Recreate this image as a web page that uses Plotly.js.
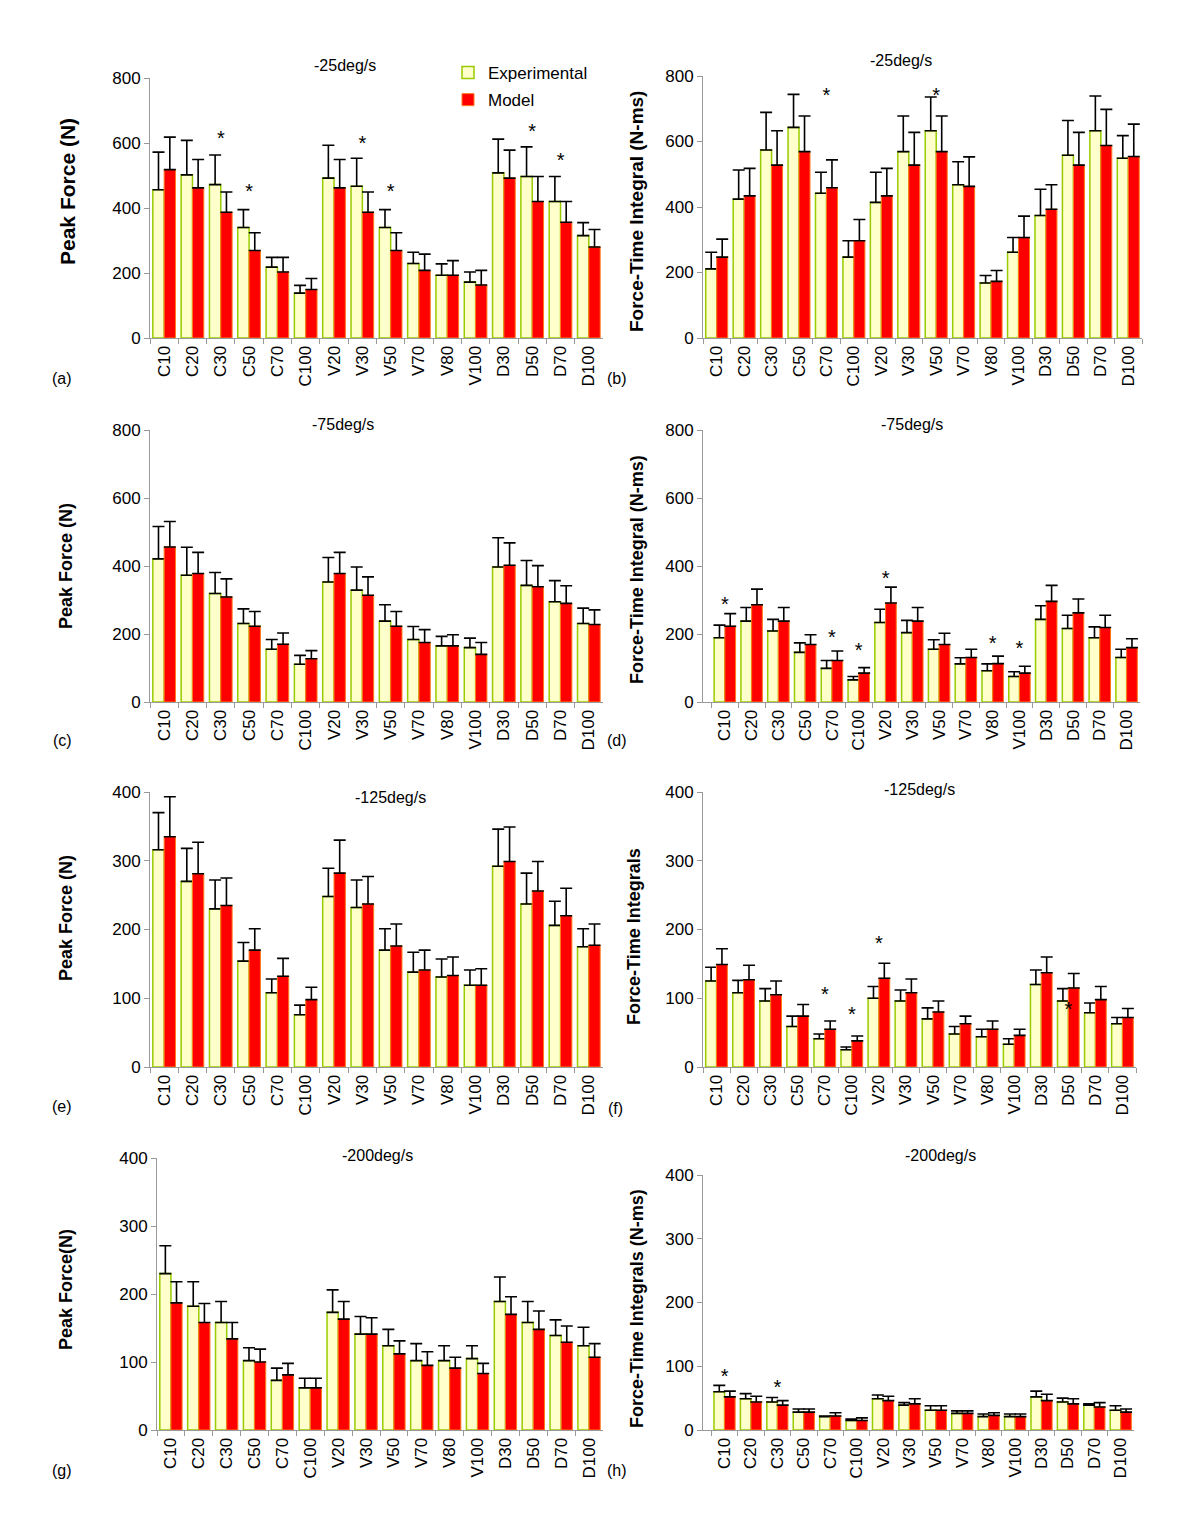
<!DOCTYPE html>
<html>
<head>
<meta charset="utf-8">
<script src="https://cdn.plot.ly/plotly-3.0.1.min.js"></script>
<style>html,body{margin:0;padding:0;background:#fff;}#chart{width:1200px;height:1537px;}</style>
</head>
<body>
<div id="chart"></div>
<script>
// ---------- DATA ----------
const categories = ["C10","C20","C30","C50","C70","C100","V20","V30","V50","V70","V80","V100","D30","D50","D70","D100"];

// (a) Peak force, -25 deg/s
const expA = [456,502,472,340,218,138,492,467,340,229,193,172,508,497,420,315];
const expAerr = [116,106,91,55,30,24,101,86,55,35,35,31,104,91,77,40];
const modA = [518,462,387,269,203,149,462,387,269,208,193,163,492,420,356,280];
const modAerr = [100,87,62,55,45,34,87,62,55,50,45,45,86,77,64,54];
const starA_cat = ["C30","C50","V30","V50","D50","D70"];
const starA_val = [609,446,594,446,631,541];

// (b) Force-time integral, -25 deg/s
const expB = [211,424,574,643,442,247,414,569,633,468,168,262,374,558,633,549];
const expBerr = [51,89,115,101,64,50,92,109,103,70,23,45,80,106,106,69];
const modB = [247,434,528,569,459,297,434,528,569,463,173,307,393,528,588,554];
const modBerr = [55,84,105,109,85,65,84,100,109,90,33,65,75,100,110,99];
const starB_cat = ["C70","V50"];
const starB_val = [737,737];

// (c) Peak force, -75 deg/s
const expC = [421,373,319,231,155,111,353,329,238,184,165,160,397,343,295,231];
const expCerr = [95,82,62,43,29,26,72,68,48,38,28,28,86,73,62,45];
const modC = [456,378,309,223,170,127,378,314,223,175,165,140,402,339,290,228];
const modCerr = [75,62,53,43,33,24,62,54,43,38,33,35,66,62,52,43];
const starC_cat = [];
const starC_val = [];

// (d) Force-time integral, -75 deg/s
const expD = [189,238,209,146,99,65,234,204,155,112,92,75,243,216,189,131];
const expDerr = [37,40,34,28,23,10,39,36,28,18,20,14,40,39,32,24];
const modD = [223,286,238,169,122,85,291,238,169,131,113,85,296,262,219,160];
const modDerr = [37,46,40,29,28,16,47,40,33,24,22,20,47,41,36,26];
const starD_cat = ["C10","C70","C100","V20","V80","V100"];
const starD_val = [281,184,148,359,169,153];

// (e) Peak force, -125 deg/s
const expE = [316,270,230,154,108,76,248,232,170,138,131,119,292,237,206,175];
const expEerr = [54,48,42,27,20,14,41,40,31,29,26,22,54,45,35,26];
const modE = [335,281,235,170,132,98,282,237,176,141,133,119,299,256,220,177];
const modEerr = [58,46,40,31,26,18,48,40,32,29,27,24,50,43,40,31];
const starE_cat = [];
const starE_val = [];

// (f) Force-time integrals, -125 deg/s
const expF = [125,108,96,59,41,25,100,96,70,48,44,33,120,96,79,63];
const expFerr = [20,18,18,15,7,4,17,16,16,11,11,8,21,18,14,9];
const modF = [149,127,105,74,55,38,129,108,80,63,55,46,137,115,98,72];
const modFerr = [23,21,20,17,12,7,22,20,16,11,12,9,23,21,19,13];
const starF_cat = ["C70","C100","V20","D50"];
const starF_val = [103,74,177,82];

// (g) Peak force, -200 deg/s
const expG = [230,182,158,102,73,62,173,141,124,102,102,105,189,158,139,124];
const expGerr = [41,36,31,19,18,14,33,26,24,25,22,19,36,31,23,27];
const modG = [187,158,134,100,81,62,163,141,112,95,91,83,170,148,129,107];
const modGerr = [31,28,24,19,17,14,26,24,19,20,16,15,26,27,24,20];
const starG_cat = [];
const starG_val = [];

// (h) Force-time integrals, -200 deg/s
const expH = [60,49,44,28,21,15,49,39,31,26,21,21,52,44,39,31];
const expHerr = [10,8,7,5,1,2,6,4,7,4,4,4,9,6,2,7];
const modH = [52,44,39,28,22,15,46,41,31,26,23,21,46,41,36,28];
const modHerr = [9,9,7,5,5,4,7,8,7,4,4,4,10,8,7,5];
const starH_cat = ["C10","C30"];
const starH_val = [82,65];

const panelTitles = ["-25deg/s","-25deg/s","-75deg/s","-75deg/s","-125deg/s","-125deg/s","-200deg/s","-200deg/s"];
const panelLetters = ["(a)","(b)","(c)","(d)","(e)","(f)","(g)","(h)"];
const yTitles = ["Peak Force (N)","Force-Time Integral (N-ms)","Peak Force (N)","Force-Time Integral (N-ms)",
                 "Peak Force (N)","Force-Time Integrals","Peak Force(N)","Force-Time Integrals (N-ms)"];
const yMax = [800,800,800,800,400,400,400,400];
const yStep = [200,200,200,200,100,100,100,100];

// ---------- LAYOUT HELPERS ----------
const W = 1200, H = 1537;
const px = x => x / W;
const py = y => 1 - y / H;

const panels = [
  {exp:expA, expErr:expAerr, mod:modA, modErr:modAerr, sc:starA_cat, sv:starA_val, x0:150, x1:603, top:78,  bot:338, tx:345, ty:66,  lx:62,  ly:378,  yx:67,  yy:192, yfs:21},
  {exp:expB, expErr:expBerr, mod:modB, modErr:modBerr, sc:starB_cat, sv:starB_val, x0:703, x1:1142, top:76, bot:338, tx:901, ty:61,  lx:617, ly:378,  yx:636, yy:212, yfs:19},
  {exp:expC, expErr:expCerr, mod:modC, modErr:modCerr, sc:starC_cat, sv:starC_val, x0:150, x1:603, top:430, bot:702, tx:343, ty:425, lx:62,  ly:740,  yx:66,  yy:566, yfs:18},
  {exp:expD, expErr:expDerr, mod:modD, modErr:modDerr, sc:starD_cat, sv:starD_val, x0:703, x1:1140, top:430, bot:702, tx:912, ty:425, lx:617, ly:740,  yx:637, yy:570, yfs:18},
  {exp:expE, expErr:expEerr, mod:modE, modErr:modEerr, sc:starE_cat, sv:starE_val, x0:150, x1:603, top:792, bot:1067, tx:390, ty:797, lx:62, ly:1106, yx:66,  yy:918, yfs:18},
  {exp:expF, expErr:expFerr, mod:modF, modErr:modFerr, sc:starF_cat, sv:starF_val, x0:703, x1:1136, top:792, bot:1067, tx:919, ty:789, lx:615, ly:1108, yx:634, yy:937, yfs:18},
  {exp:expG, expErr:expGerr, mod:modG, modErr:modGerr, sc:starG_cat, sv:starG_val, x0:157, x1:603, top:1158, bot:1430, tx:377, ty:1155, lx:62, ly:1470, yx:66,  yy:1290, yfs:18},
  {exp:expH, expErr:expHerr, mod:modH, modErr:modHerr, sc:starH_cat, sv:starH_val, x0:703, x1:1134, top:1175, bot:1430, tx:940, ty:1155, lx:617, ly:1470, yx:637, yy:1309, yfs:18}
];

const FONT = "Liberation Sans, Arial, sans-serif";
const EXP_FILL = "#FFFFCC", EXP_LINE = "#99CC00";
const MOD_FILL = "#FF0000", MOD_LINE = "#FF7A1A";

const data = [];
const layout = {
  width: W, height: H,
  margin: {l:0, r:0, t:0, b:0},
  paper_bgcolor: "#fff", plot_bgcolor: "#fff",
  font: {family: FONT, color: "#000"},
  barmode: "group", bargap: 0.2, bargroupgap: 0,
  showlegend: true,
  legend: {x: px(448), y: py(55), xanchor: "left", yanchor: "top",
           font: {family: FONT, size: 17}, bgcolor: "rgba(0,0,0,0)",
           tracegroupgap: 2, traceorder: "grouped", itemwidth: 30},
  annotations: []
};

panels.forEach((p, i) => {
  const n = i + 1;
  const xa = n === 1 ? "x" : "x" + n;
  const ya = n === 1 ? "y" : "y" + n;
  const xKey = n === 1 ? "xaxis" : "xaxis" + n;
  const yKey = n === 1 ? "yaxis" : "yaxis" + n;
  const zeros = categories.map(() => 0);

  data.push({
    type: "bar", name: "Experimental", x: categories, y: p.exp, xaxis: xa, yaxis: ya,
    marker: {color: EXP_FILL, line: {color: EXP_LINE, width: 1.5}},
    error_y: {type: "data", symmetric: false, array: p.expErr, arrayminus: zeros,
              color: "#000", thickness: 1.6, width: 6},
    showlegend: i === 0, legendgroup: "exp", hoverinfo: "x+y"
  });
  data.push({
    type: "bar", name: "Model", x: categories, y: p.mod, xaxis: xa, yaxis: ya,
    marker: {color: MOD_FILL, line: {color: MOD_LINE, width: 1}},
    error_y: {type: "data", symmetric: false, array: p.modErr, arrayminus: zeros,
              color: "#000", thickness: 1.6, width: 6},
    showlegend: i === 0, legendgroup: "mod", hoverinfo: "x+y"
  });
  if (p.sc.length) {
    data.push({
      type: "scatter", mode: "text", x: p.sc, y: p.sv, text: p.sc.map(() => "*"),
      textfont: {family: FONT, size: 20, color: "#000"}, textposition: "middle center",
      xaxis: xa, yaxis: ya, showlegend: false, hoverinfo: "skip", cliponaxis: false
    });
  }

  layout[xKey] = {
    domain: [px(p.x0), px(p.x1)], anchor: ya, type: "category",
    categoryorder: "array", categoryarray: categories,
    showline: true, linecolor: "#999", linewidth: 1,
    ticks: "outside", tickson: "boundaries", ticklen: 5, tickcolor: "#999",
    tickangle: -90, tickfont: {family: FONT, size: 17, color: "#000"},
    showgrid: false, zeroline: false, fixedrange: true
  };
  layout[yKey] = {
    domain: [py(p.bot), py(p.top)], anchor: xa,
    range: [0, yMax[i]], dtick: yStep[i], tick0: 0,
    showline: true, linecolor: "#999", linewidth: 1,
    ticks: "outside", ticklen: 5, tickcolor: "#999",
    tickfont: {family: FONT, size: 17, color: "#000"},
    showgrid: false, zeroline: false, fixedrange: true
  };

  layout.annotations.push({
    text: panelTitles[i], x: px(p.tx), y: py(p.ty), xref: "paper", yref: "paper",
    xanchor: "center", yanchor: "middle", showarrow: false,
    font: {family: FONT, size: 16, color: "#000"}
  });
  layout.annotations.push({
    text: panelLetters[i], x: px(p.lx), y: py(p.ly), xref: "paper", yref: "paper",
    xanchor: "center", yanchor: "middle", showarrow: false,
    font: {family: FONT, size: 16, color: "#000"}
  });
  layout.annotations.push({
    text: "<b>" + yTitles[i] + "</b>", x: px(p.yx), y: py(p.yy),
    xref: "paper", yref: "paper", xanchor: "center", yanchor: "middle",
    textangle: -90, showarrow: false,
    font: {family: FONT, size: p.yfs, color: "#000"}
  });
});

Plotly.newPlot("chart", data, layout, {displayModeBar: false, staticPlot: true});
</script>
</body>
</html>
